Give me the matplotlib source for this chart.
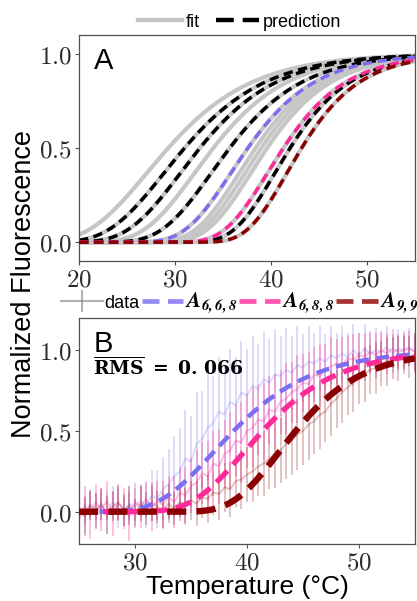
import numpy as np
import matplotlib
matplotlib.use('Agg')
import matplotlib.pyplot as plt
from matplotlib.lines import Line2D
from matplotlib.font_manager import FontProperties
from matplotlib.ticker import FuncFormatter

plt.rcParams['font.family'] = ['Liberation Sans', 'DejaVu Sans']
plt.rcParams['mathtext.fontset'] = 'cm'

# ── panel A: fitted and predicted melting curves ─────────────────────────────
# each curve is given by its midpoint Tm (°C) and width w (°C)
FIT_TM = [29.3, 31.0, 32.6, 34.0, 35.7, 37.6, 38.4, 39.0, 39.6, 41.3, 42.0, 43.2]
FIT_W  = [6.05, 5.8, 5.5, 5.3, 5.2, 4.8, 4.6, 4.6, 4.6, 4.5, 4.3, 4.16]
PRED_TM = [31.0, 32.6, 35.7, 42.0]
PRED_W  = [5.8, 5.5, 5.2, 4.3]

SEQ_LABELS = [r'$\mathbfit{A_{6,6,8}}$', r'$\mathbfit{A_{6,8,8}}$', r'$\mathbfit{A_{9,9}}$']
SEQ_COLORS = ['#7b6ff0', '#ff2a9a', '#8b0000']
SEQ_TM_A = [37.6, 41.3, 43.2]
SEQ_W_A  = [4.8, 4.5, 4.16]

# ── panel B: measured traces and predictions ─────────────────────────────────
SEQ_TM_B = [38.8, 41.4, 44.35]
SEQ_W_B  = [4.9, 4.6, 4.1]
RMS = 0.066

T_DATA = np.linspace(25, 55, 61)
DATA_668 = [0.03, -0.02, 0.05, 0.01, 0.04, -0.01, 0.06, 0.02, 0.00, 0.05,
            0.03, 0.07, 0.04, 0.10, 0.08, 0.14, 0.17, 0.22, 0.25, 0.33,
            0.31, 0.42, 0.45, 0.52, 0.55, 0.62, 0.60, 0.68, 0.66, 0.74,
            0.72, 0.78, 0.76, 0.82, 0.80, 0.85, 0.84, 0.88, 0.86, 0.91,
            0.89, 0.93, 0.92, 0.95, 0.93, 0.97, 0.95, 0.98, 0.96, 1.00,
            0.97, 1.01, 0.98, 1.00, 0.99, 1.02, 0.98, 1.01, 1.00, 1.02, 0.99]
ERR_668 = [0.10, 0.12, 0.09, 0.11, 0.10, 0.13, 0.10, 0.12, 0.09, 0.11,
           0.12, 0.10, 0.14, 0.16, 0.18, 0.20, 0.22, 0.25, 0.27, 0.30,
           0.28, 0.32, 0.30, 0.33, 0.29, 0.34, 0.31, 0.33, 0.30, 0.32,
           0.29, 0.31, 0.28, 0.30, 0.27, 0.28, 0.25, 0.26, 0.23, 0.24,
           0.21, 0.22, 0.19, 0.20, 0.17, 0.18, 0.16, 0.17, 0.15, 0.16,
           0.14, 0.15, 0.13, 0.14, 0.12, 0.13, 0.12, 0.12, 0.11, 0.12, 0.11]
DATA_688 = [-0.05, 0.04, -0.02, 0.06, 0.01, 0.07, -0.01, 0.05, 0.02, -0.03,
            0.06, 0.03, 0.08, 0.02, 0.07, 0.04, 0.09, 0.06, 0.12, 0.10,
            0.16, 0.18, 0.24, 0.22, 0.30, 0.28, 0.36, 0.38, 0.44, 0.43,
            0.50, 0.52, 0.57, 0.56, 0.63, 0.62, 0.68, 0.70, 0.74, 0.76,
            0.80, 0.79, 0.85, 0.84, 0.88, 0.90, 0.92, 0.91, 0.95, 0.94,
            0.97, 0.96, 0.99, 0.97, 1.00, 0.98, 1.01, 0.99, 1.00, 1.01, 0.99]
ERR_688 = [0.14, 0.12, 0.15, 0.11, 0.13, 0.12, 0.14, 0.11, 0.13, 0.15,
           0.12, 0.13, 0.11, 0.14, 0.12, 0.15, 0.13, 0.16, 0.15, 0.18,
           0.17, 0.20, 0.19, 0.22, 0.20, 0.23, 0.21, 0.24, 0.22, 0.25,
           0.23, 0.25, 0.22, 0.24, 0.21, 0.23, 0.20, 0.22, 0.19, 0.21,
           0.18, 0.20, 0.17, 0.19, 0.16, 0.18, 0.15, 0.17, 0.14, 0.16,
           0.14, 0.15, 0.13, 0.14, 0.12, 0.13, 0.12, 0.11, 0.12, 0.11, 0.12]
DATA_99 = [0.02, -0.03, 0.04, 0.00, 0.05, -0.02, 0.03, 0.06, 0.01, 0.04,
           -0.01, 0.05, 0.02, 0.06, 0.03, 0.01, 0.05, 0.02, 0.06, 0.04,
           0.07, 0.05, 0.09, 0.08, 0.12, 0.11, 0.15, 0.14, 0.19, 0.20,
           0.23, 0.25, 0.28, 0.30, 0.33, 0.36, 0.38, 0.42, 0.44, 0.48,
           0.50, 0.54, 0.56, 0.60, 0.62, 0.67, 0.70, 0.74, 0.77, 0.80,
           0.83, 0.85, 0.88, 0.89, 0.92, 0.93, 0.95, 0.95, 0.97, 0.96, 0.98]
ERR_99 = [0.10, 0.12, 0.09, 0.11, 0.10, 0.12, 0.09, 0.11, 0.10, 0.12,
          0.09, 0.11, 0.10, 0.12, 0.10, 0.11, 0.12, 0.10, 0.12, 0.11,
          0.12, 0.14, 0.13, 0.15, 0.14, 0.16, 0.15, 0.17, 0.16, 0.18,
          0.17, 0.19, 0.18, 0.20, 0.19, 0.21, 0.20, 0.22, 0.21, 0.22,
          0.21, 0.22, 0.20, 0.21, 0.19, 0.20, 0.18, 0.19, 0.17, 0.18,
          0.16, 0.17, 0.15, 0.16, 0.14, 0.15, 0.13, 0.14, 0.12, 0.13, 0.12]
DATA = [DATA_668, DATA_688, DATA_99]
ERRS = [ERR_668, ERR_688, ERR_99]
DATA_ALPHA = [0.25, 0.3, 0.24]

FIT_GRAY = '#c6c6c6'
SPINE = '#505050'


def melt_curve(t, tm, w):
    # asymmetric (Gompertz-type) sigmoid, equal to 0.5 at t = tm
    return 2.0 ** (-np.exp(-(t - tm) / w))


def style_axes(ax, xticks, yticks):
    ax.set_xticks(xticks)
    ax.set_yticks(yticks)
    ax.xaxis.set_major_formatter(FuncFormatter(lambda v, p: f'${v:.0f}$'))
    ax.yaxis.set_major_formatter(FuncFormatter(lambda v, p: f'${v:.1f}$'))
    ax.tick_params(labelsize=18, length=3, width=0.8, color=SPINE,
                   labelcolor='#2a2a2a', pad=2)
    for s in ax.spines.values():
        s.set_color(SPINE)
        s.set_linewidth(0.9)


fig = plt.figure(figsize=(4.17, 6.01), dpi=100)
ax_a = fig.add_axes([0.1894, 0.5657, 0.8056, 0.3761])
ax_b = fig.add_axes([0.1894, 0.0948, 0.8056, 0.3761])

# ── panel A ──────────────────────────────────────────────────────────────────
t = np.linspace(20, 55, 400)
for tm, w in zip(FIT_TM, FIT_W):
    ax_a.plot(t, melt_curve(t, tm, w), color=FIT_GRAY, lw=3.0, zorder=1)
for tm, w in zip(PRED_TM, PRED_W):
    ax_a.plot(t, melt_curve(t, tm, w), color='black', lw=2.5,
              dashes=(2.7, 1.6), zorder=2)
for tm, w, c in zip(SEQ_TM_A, SEQ_W_A, SEQ_COLORS):
    ax_a.plot(t, melt_curve(t, tm, w), color=c, lw=2.5,
              dashes=(2.7, 1.6), zorder=3)
ax_a.set_xlim(20, 55)
ax_a.set_ylim(-0.1, 1.1)
style_axes(ax_a, [20, 30, 40, 50], [0.0, 0.5, 1.0])
ax_a.text(0.045, 0.945, 'A', transform=ax_a.transAxes, fontsize=21, va='top')

# ── panel B ──────────────────────────────────────────────────────────────────
for y, e, c, a in zip(DATA, ERRS, SEQ_COLORS, DATA_ALPHA):
    ax_b.errorbar(T_DATA, y, yerr=e, color=c, alpha=a, lw=1.4,
                  elinewidth=1.4, capsize=0, zorder=1)
tb = np.linspace(25, 55, 400)
pred_lw = [3.2, 3.8, 4.6]
for tm, w, c, lw in zip(SEQ_TM_B, SEQ_W_B, SEQ_COLORS, pred_lw):
    ax_b.plot(tb, melt_curve(tb, tm, w), color=c, lw=lw,
              dashes=(3.0, 1.6), zorder=3)
ax_b.set_xlim(25, 55)
ax_b.set_ylim(-0.2, 1.2)
style_axes(ax_b, [30, 40, 50], [0.0, 0.5, 1.0])
ax_b.text(0.045, 0.945, 'B', transform=ax_b.transAxes, fontsize=21, va='top')
ax_b.text(0.042, 0.83,
          r'$\overline{\mathbf{RMS}}\ \mathbf{=}\ \mathbf{0.\,%s}$' % f'{RMS:.3f}'[2:],
          transform=ax_b.transAxes, fontsize=13.5, va='top',
          math_fontfamily='dejavuserif')
ax_b.set_xlabel('Temperature (°C)', fontsize=19, labelpad=0)

fig.text(0.058, 0.528, 'Normalized Fluorescence', rotation=90,
         fontsize=19.5, ha='center', va='center')

# ── legends ──────────────────────────────────────────────────────────────────
fig.legend(
    [Line2D([], [], color=FIT_GRAY, lw=3.2),
     Line2D([], [], color='black', lw=3.2, dashes=(4.0, 2.0))],
    ['fit', 'prediction'], loc='center', bbox_to_anchor=(0.575, 0.963),
    ncol=2, frameon=False, fontsize=13, handlelength=2.4,
    handletextpad=0.2, columnspacing=0.9, borderaxespad=0)

handles_b = [Line2D([], [], color='#808080', alpha=0.6, lw=1.5,
                    marker='|', markersize=16, markeredgewidth=1.5)]
labels_b = ['data']
for c, lab in zip(SEQ_COLORS, SEQ_LABELS):
    handles_b.append(Line2D([], [], color=c, alpha=0.8, lw=3.4, dashes=(3.6, 1.8)))
    labels_b.append(lab)
leg_b = fig.legend(handles_b, labels_b, loc='center',
                   bbox_to_anchor=(0.575, 0.496), ncol=4, frameon=False,
                   prop=FontProperties(family=['Liberation Sans', 'DejaVu Sans'],
                                       size=13, math_fontfamily='stix'),
                   handlelength=2.3, handletextpad=0.1,
                   columnspacing=0.1, borderaxespad=0)
for txt in leg_b.get_texts()[1:]:
    txt.set_fontsize(15.5)

fig.savefig('out.png', dpi=100)
